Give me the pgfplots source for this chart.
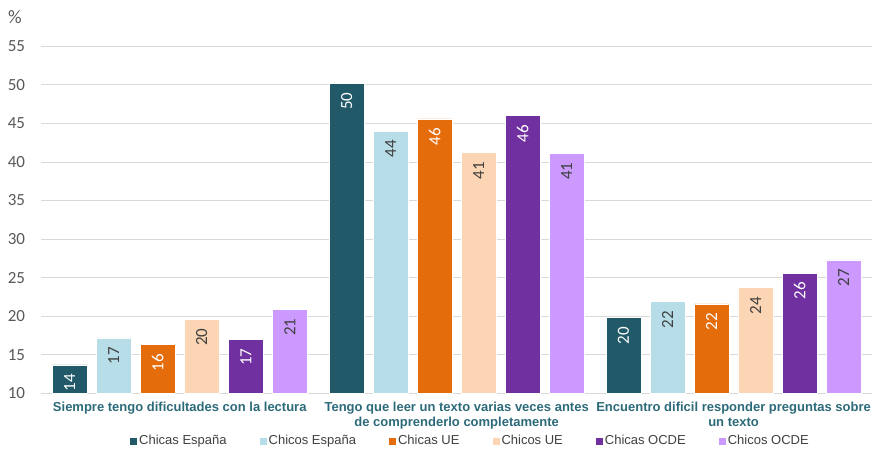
\documentclass[border=0pt]{standalone}
\usepackage{pgfplots}
\pgfplotsset{compat=1.18}
\usepackage{fontspec}
\setmainfont{Liberation Sans}
\newfontfamily\calibri{Carlito}
\definecolor{c1}{HTML}{215968}
\definecolor{c2}{HTML}{B7DEE8}
\definecolor{c3}{HTML}{E46C0A}
\definecolor{c4}{HTML}{FCD5B5}
\definecolor{c5}{HTML}{7030A0}
\definecolor{c6}{HTML}{CC99FF}
\definecolor{gridc}{HTML}{D9D9D9}
\definecolor{tickc}{HTML}{595959}
\definecolor{catc}{HTML}{2C6A7A}
\definecolor{darklab}{HTML}{404040}
\begin{document}
\begin{tikzpicture}
\useasboundingbox (0,0) rectangle (872pt,449pt);
\begin{axis}[
  at={(41.3pt,55.7pt)}, anchor=south west,
  scale only axis, width=830.7pt, height=347pt,
  xmin=-0.5, xmax=2.5, ymin=10, ymax=55,
  ytick={10,15,...,55},
  xtick={0,1,2},
  xticklabels={{Siempre tengo dificultades con la lectura},{Tengo que leer un texto varias veces antes\\de comprenderlo completamente},{Encuentro dificil responder preguntas sobre\\un texto}},
  xticklabel style={align=center, font=\bfseries\fontsize{13}{14.5}\selectfont, text=catc, inner sep=0pt, yshift=-9pt},
  yticklabel style={font=\calibri\fontsize{17}{17}\selectfont, text=tickc, inner sep=0pt, xshift=-16pt},
  /pgf/number format/assume math mode=true,
  /pgf/number format/.cd, fixed, precision=0, /pgfplots/.cd,
  axis lines*=left,
  axis line style={-},
  x axis line style={draw=gridc, line width=1.4pt},
  y axis line style={draw=none},
  major tick length=0pt,
  ymajorgrids,
  grid style={draw=gridc, line width=0.9pt},
  ybar,
  bar width=0.1254,
  nodes near coords,
  every node near coord/.append style={rotate=90, anchor=east, inner xsep=9pt, inner ysep=0pt, font=\calibri\fontsize{17}{17}\selectfont},
  legend columns=6,
  legend cell align=left,
  legend style={at={(rel axis cs:0.1068,-0.1375)}, anchor=west, draw=none, fill=none, font=\fontsize{13}{13}\selectfont, text=darklab, inner sep=0pt, nodes={inner sep=2pt}, /tikz/every even column/.append style={column sep=31pt}},
  legend image code/.code={\fill[#1, draw=none] (0pt,-3.5pt) rectangle (7pt,3.5pt);},
]
\addplot[fill=c1, draw=white, line width=0.5pt, bar shift=-0.3975, every node near coord/.append style={text=white}] coordinates {(0,13.7) (1,50.2) (2,19.8)};
\addplot[fill=c2, draw=white, line width=0.5pt, bar shift=-0.2385, every node near coord/.append style={text=darklab}] coordinates {(0,17.2) (1,44.0) (2,21.9)};
\addplot[fill=c3, draw=white, line width=0.5pt, bar shift=-0.0795, every node near coord/.append style={text=white}] coordinates {(0,16.3) (1,45.6) (2,21.6)};
\addplot[fill=c4, draw=white, line width=0.5pt, bar shift=0.0795, every node near coord/.append style={text=darklab}] coordinates {(0,19.6) (1,41.2) (2,23.7)};
\addplot[fill=c5, draw=white, line width=0.5pt, bar shift=0.2385, every node near coord/.append style={text=white}] coordinates {(0,17.0) (1,46.0) (2,25.6)};
\addplot[fill=c6, draw=white, line width=0.5pt, bar shift=0.3975, every node near coord/.append style={text=darklab}] coordinates {(0,20.9) (1,41.1) (2,27.3)};
\legend{Chicas España, Chicos España, Chicas UE, Chicos UE, Chicas OCDE, Chicos OCDE}
\end{axis}
\node[font=\calibri\fontsize{19}{19}\selectfont, text=tickc, inner sep=0pt] at (15pt,432pt) {\%};
\end{tikzpicture}
\end{document}
